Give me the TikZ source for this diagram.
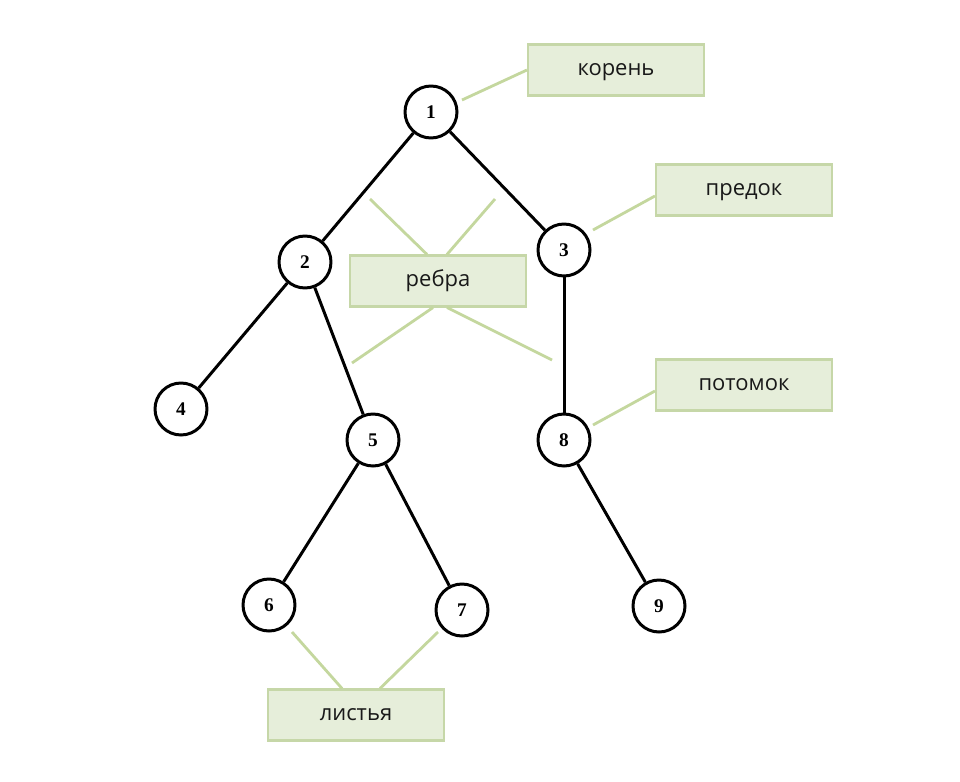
\documentclass[tikz,border=0pt]{standalone}
\usepackage{fontspec}
\setmainfont{Open Sans}
\newfontfamily\numfont{Liberation Serif}
\definecolor{boxfill}{HTML}{E6EEDA}
\definecolor{boxline}{HTML}{C6D7A8}
\definecolor{pointer}{HTML}{C4D79E}
\begin{document}
\begin{tikzpicture}[x=0.02cm,y=-0.02cm,
  vertex/.style={circle,draw=black,line width=1.7pt,fill=white,minimum size=1.04cm,inner sep=0pt,font=\numfont\bfseries\fontsize{11}{13}\selectfont},
  edge/.style={draw=black,line width=1.7pt},
  tag/.style={rectangle,draw=boxline,line width=1.2pt,fill=boxfill,minimum width=3.52cm,minimum height=1.02cm,inner sep=0pt,text height=8pt,text depth=2pt,font=\fontsize{12.5}{15}\selectfont,text=black!90},
  hint/.style={draw=pointer,line width=1.6pt}]
\useasboundingbox (0,0) rectangle (960,781);

% tree vertices
\node[vertex] (n1) at (431,112) {1};
\node[vertex] (n2) at (305,262) {2};
\node[vertex] (n3) at (564,250) {3};
\node[vertex] (n4) at (181,409) {4};
\node[vertex] (n5) at (373,440) {5};
\node[vertex] (n6) at (269,605) {6};
\node[vertex] (n7) at (462,610) {7};
\node[vertex] (n8) at (564,440) {8};
\node[vertex] (n9) at (659,606) {9};

% tree edges
\draw[edge] (n1) -- (n2);
\draw[edge] (n1) -- (n3);
\draw[edge] (n2) -- (n4);
\draw[edge] (n2) -- (n5);
\draw[edge] (n3) -- (n8);
\draw[edge] (n5) -- (n6);
\draw[edge] (n5) -- (n7);
\draw[edge] (n8) -- (n9);

% explanatory labels
\node[tag] (root) at (616,70) {корень};
\node[tag] (anc) at (744,190) {предок};
\node[tag] (edges) at (438,281) {ребра};
\node[tag] (desc) at (744,385) {потомок};
\node[tag] (leaves) at (356,715) {листья};

% pointer ends
\coordinate (pRoot) at (462,100);
\coordinate (pAnc) at (593,230);
\coordinate (pDesc) at (593,425);
\coordinate (pE1) at (370,199);
\coordinate (pE2) at (495,199);
\coordinate (pE3) at (352,363);
\coordinate (pE4) at (552,360);
\coordinate (pL1) at (292,632);
\coordinate (pL2) at (438,632);

% pointers
\draw[hint] (pRoot) -- (root.west);
\draw[hint] (pAnc) -- (anc.west |- 0,196);
\draw[hint] (pDesc) -- (desc.west |- 0,391);
\draw[hint] (pE1) -- (edges.north -| 427,0);
\draw[hint] (pE2) -- (edges.north -| 447,0);
\draw[hint] (pE3) -- (edges.south -| 433,0);
\draw[hint] (pE4) -- (edges.south -| 447,0);
\draw[hint] (pL1) -- (leaves.north -| 342,0);
\draw[hint] (pL2) -- (leaves.north -| 380,0);
\end{tikzpicture}
\end{document}
